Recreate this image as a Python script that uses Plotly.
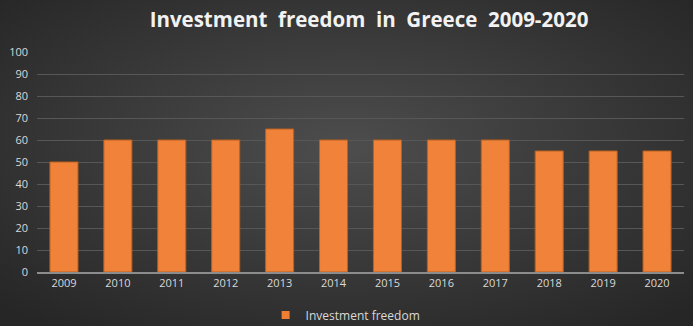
import base64
import plotly.graph_objects as go

years = ["2009", "2010", "2011", "2012", "2013", "2014", "2015", "2016", "2017", "2018", "2019", "2020"]
investment_freedom = [50, 60, 60, 60, 65, 60, 60, 60, 60, 55, 55, 55]
y_ticks = list(range(0, 101, 10))

W, H = 693, 326
ML, MR, MT, MB = 37, 9, 52, 54
PW, PH = W - ML - MR, H - MT - MB

# Radial dark-gray backdrop as an inline SVG
svg = (
    f'<svg xmlns="http://www.w3.org/2000/svg" width="{W}" height="{H}">'
    '<defs><radialGradient id="g" cx="50%" cy="45%" r="70%">'
    '<stop offset="0%" stop-color="#4d4d4d"/>'
    '<stop offset="100%" stop-color="#262626"/>'
    '</radialGradient></defs>'
    f'<rect width="{W}" height="{H}" fill="url(#g)"/></svg>'
)
bg_uri = "data:image/svg+xml;base64," + base64.b64encode(svg.encode()).decode()

fig = go.Figure()
fig.add_trace(go.Bar(
    x=years,
    y=investment_freedom,
    name="Investment freedom",
    marker=dict(color="#f0823a", line=dict(color="#b8611f", width=1)),
    width=0.52,
    showlegend=False,
))
# Legend entry with a small square swatch
fig.add_trace(go.Scatter(
    x=[None], y=[None], mode="markers", name="Investment freedom",
    marker=dict(symbol="square", size=8, color="#f07e32"),
    showlegend=True,
))

fig.update_layout(
    width=W,
    height=H,
    margin=dict(l=ML, r=MR, t=MT, b=MB, autoexpand=False),
    paper_bgcolor="#3a3a3a",
    plot_bgcolor="rgba(0,0,0,0)",
    images=[dict(source=bg_uri, xref="paper", yref="paper", x=-ML / PW, y=1 + MT / PH,
                 sizex=W / PW, sizey=H / PH, xanchor="left", yanchor="top",
                 sizing="stretch", layer="below")],
    title=dict(
        text="Investment  freedom  in  Greece  2009-2020",
        x=369 / W, xref="container", xanchor="center",
        y=1 - 20 / H, yref="container", yanchor="middle",
        font=dict(family="Open Sans, sans-serif", size=20.5, color="#f2f2f2", weight="bold"),
    ),
    showlegend=True,
    legend=dict(
        orientation="h", x=0.477, xanchor="center", y=1 - 315 / H, yref="container", yanchor="middle",
        font=dict(family="Open Sans, sans-serif", size=12, color="#d9d9d9"),
        bgcolor="rgba(0,0,0,0)", itemwidth=30,
    ),
    font=dict(family="Open Sans, sans-serif", size=11, color="#d9d9d9"),
    xaxis=dict(
        showgrid=False, showline=True, linecolor="#8c8c8c", linewidth=2,
        ticks="", tickfont=dict(size=11, color="#d9d9d9"),
    ),
    yaxis=dict(
        range=[0, 100], tickvals=y_ticks, showgrid=True, gridcolor="#575757", gridwidth=1,
        zeroline=False, showline=False, ticks="", ticklabelstandoff=8,
        tickfont=dict(size=11, color="#d9d9d9"),
    ),
)

fig.write_html("out.html")
